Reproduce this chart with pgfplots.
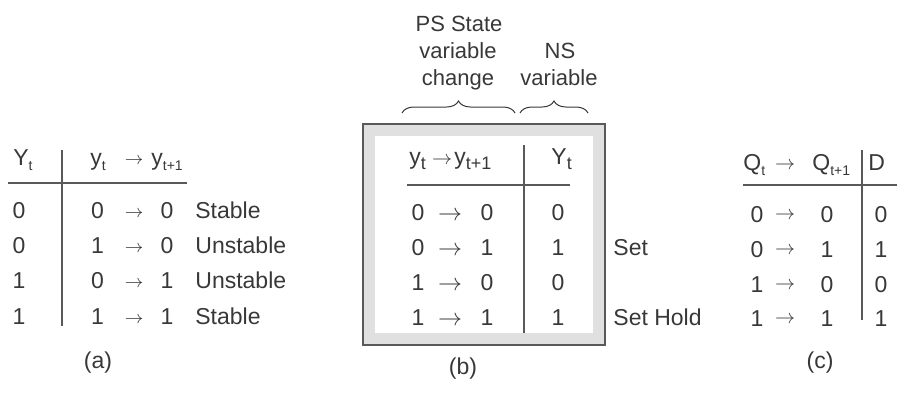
\documentclass[border=0pt]{standalone}
\usepackage{pgfplots}
\pgfplotsset{compat=1.18}
\usepackage{fontspec}
\setmainfont{Liberation Sans}
\usetikzlibrary{decorations.pathreplacing}
\definecolor{ink}{gray}{0.22}
\definecolor{rule}{gray}{0.35}
\definecolor{band}{gray}{0.88}
\newcommand\sub[2]{\raisebox{-0.45ex}{\fontsize{#1}{#1}\selectfont #2}}
\newcommand\arr[1]{{\fontsize{#1}{#1}\selectfont$\rightarrow$}}
\tikzset{T/.style={anchor=base,inner sep=0pt,text=ink,font=\fontsize{11.5}{13}\selectfont},
         TW/.style={T,anchor=base west},
         TH/.style={anchor=base,inner sep=0pt,text=ink,font=\fontsize{11}{13}\selectfont}}
\begin{document}
\begin{tikzpicture}
\begin{axis}[hide axis, scale only axis, width=448.5pt, height=196pt,
  xmin=0, xmax=897, ymin=0, ymax=392, y dir=reverse, clip=false]
% ---------- (a) ----------
\draw[rule, line width=0.9pt] (axis cs:62,150) -- (axis cs:62,326);
\draw[rule, line width=0.9pt] (axis cs:8,183) -- (axis cs:187,183);
\node[TW] at (axis cs:13,165) {Y\sub{7}{t}};
\node[TW] at (axis cs:90,165) {y\sub{7}{t}};
\node[T] at (axis cs:134,164) {\arr{9}};
\node[TW] at (axis cs:151,165) {y\sub{7}{t+1}};
\node[T] at (axis cs:19,218) {0};
\node[T] at (axis cs:19,253) {0};
\node[T] at (axis cs:19,288) {1};
\node[T] at (axis cs:19,324) {1};
\node[T] at (axis cs:97.5,218) {0};
\node[T] at (axis cs:97.5,253) {1};
\node[T] at (axis cs:97.5,288) {0};
\node[T] at (axis cs:97.5,324) {1};
\node[T] at (axis cs:134,217) {\arr{9}};
\node[T] at (axis cs:134,252) {\arr{9}};
\node[T] at (axis cs:134,287) {\arr{9}};
\node[T] at (axis cs:134,323) {\arr{9}};
\node[T] at (axis cs:167,218) {0};
\node[T] at (axis cs:167,253) {0};
\node[T] at (axis cs:167,288) {1};
\node[T] at (axis cs:167,324) {1};
\node[TW] at (axis cs:195,218) {Stable};
\node[TW] at (axis cs:195,253) {Unstable};
\node[TW] at (axis cs:195,288) {Unstable};
\node[TW] at (axis cs:195,324) {Stable};
\node[T] at (axis cs:98,368) {(a)};
% ---------- (b) ----------
\fill[band] (axis cs:363,124) rectangle (axis cs:605,345);
\fill[white] (axis cs:375,136) rectangle (axis cs:593,333);
\draw[rule, line width=0.7pt] (axis cs:363,124) rectangle (axis cs:605,345);
\node[TH] at (axis cs:459,31) {PS State};
\node[TH] at (axis cs:458,58) {variable};
\node[TH] at (axis cs:458,85) {change};
\node[TH] at (axis cs:560,58) {NS};
\node[TH] at (axis cs:559,85) {variable};
\draw[ink, line width=0.5pt, decorate, decoration={brace, amplitude=6pt}] (axis cs:402,113) -- (axis cs:515,113);
\draw[ink, line width=0.5pt, decorate, decoration={brace, amplitude=6pt}] (axis cs:520,113) -- (axis cs:588,113);
\draw[rule, line width=0.9pt] (axis cs:524,145) -- (axis cs:524,333);
\draw[rule, line width=0.9pt] (axis cs:407,185) -- (axis cs:570,185);
\node[TW] at (axis cs:409,164) {y\sub{9}{t}};
\node[T] at (axis cs:442,164) {\arr{10}};
\node[TW] at (axis cs:454,164) {y\sub{9}{t+1}};
\node[TW] at (axis cs:551,164) {Y\sub{9}{t}};
\node[T] at (axis cs:418,220) {0};
\node[T] at (axis cs:418,255) {0};
\node[T] at (axis cs:418,290) {1};
\node[T] at (axis cs:418,325) {1};
\node[T] at (axis cs:450,220) {\arr{12}};
\node[T] at (axis cs:450,255) {\arr{12}};
\node[T] at (axis cs:450,290) {\arr{12}};
\node[T] at (axis cs:450,325) {\arr{12}};
\node[T] at (axis cs:487,220) {0};
\node[T] at (axis cs:487,255) {1};
\node[T] at (axis cs:487,290) {0};
\node[T] at (axis cs:487,325) {1};
\node[T] at (axis cs:558,220) {0};
\node[T] at (axis cs:558,255) {1};
\node[T] at (axis cs:558,290) {0};
\node[T] at (axis cs:558,325) {1};
\node[TW] at (axis cs:613,255) {Set};
\node[TW] at (axis cs:613,325) {Set Hold};
\node[T] at (axis cs:463,374) {(b)};
% ---------- (c) ----------
\draw[rule, line width=0.9pt] (axis cs:862,150) -- (axis cs:862,320);
\draw[rule, line width=0.9pt] (axis cs:743,185) -- (axis cs:897,185);
\node[TW] at (axis cs:743,170) {Q\sub{7}{t}};
\node[T] at (axis cs:785,169) {\arr{10}};
\node[TW] at (axis cs:812,170) {Q\sub{7}{t+1}};
\node[TW] at (axis cs:868,170) {D};
\node[T] at (axis cs:757,222) {0};
\node[T] at (axis cs:757,257) {0};
\node[T] at (axis cs:757,292) {1};
\node[T] at (axis cs:757,326) {1};
\node[T] at (axis cs:785,219) {\arr{10}};
\node[T] at (axis cs:785,254) {\arr{10}};
\node[T] at (axis cs:785,289) {\arr{10}};
\node[T] at (axis cs:785,323) {\arr{10}};
\node[T] at (axis cs:827,222) {0};
\node[T] at (axis cs:827,257) {1};
\node[T] at (axis cs:827,292) {0};
\node[T] at (axis cs:827,326) {1};
\node[T] at (axis cs:881,222) {0};
\node[T] at (axis cs:881,257) {1};
\node[T] at (axis cs:881,292) {0};
\node[T] at (axis cs:881,326) {1};
\node[T] at (axis cs:820,368) {(c)};
\end{axis}
\pgfresetboundingbox
\path (current axis.south west) rectangle (current axis.north east);
\end{tikzpicture}
\end{document}
